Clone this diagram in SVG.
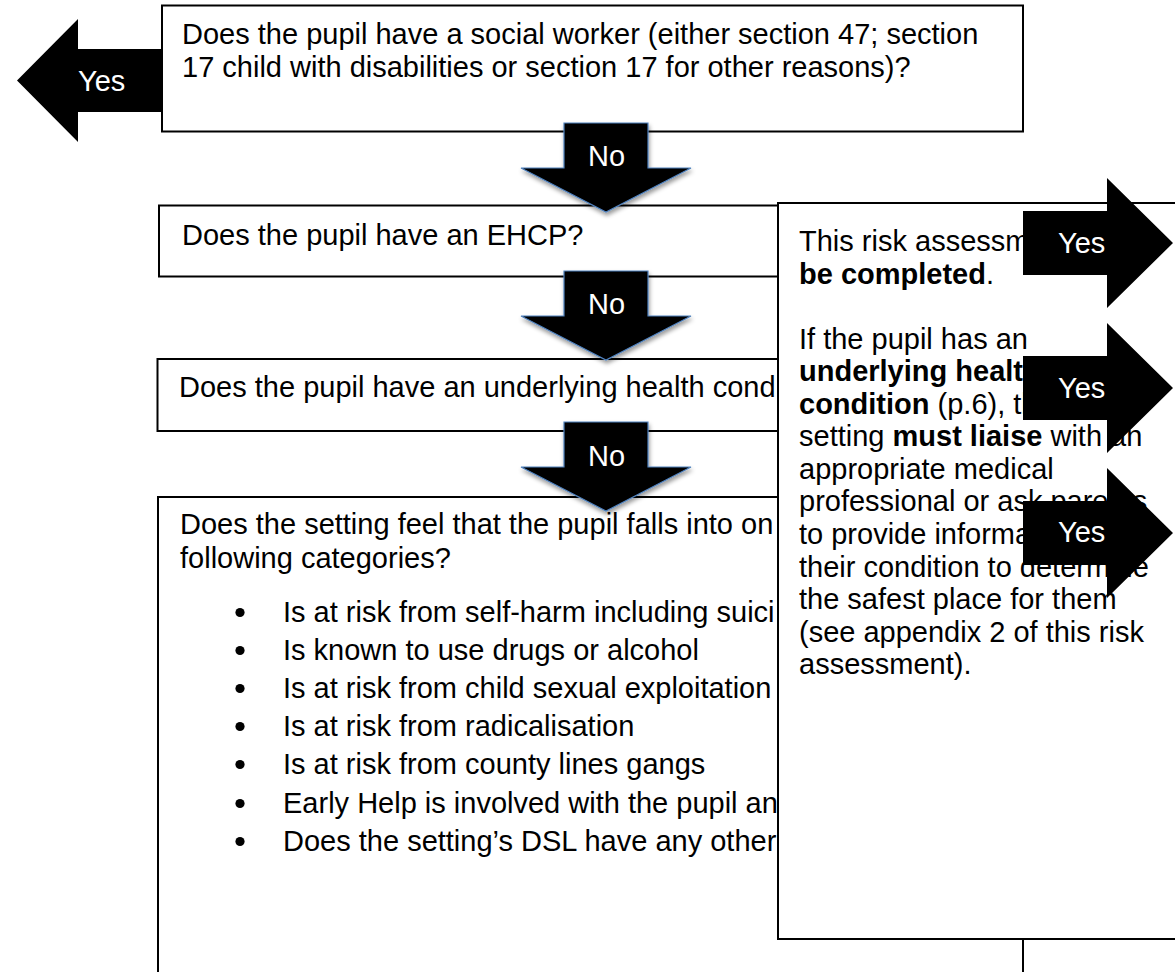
<svg xmlns="http://www.w3.org/2000/svg" width="1175" height="972" viewBox="0 0 1175 972">
<defs>
<style>
.box{fill:#fff;stroke:#000;stroke-width:2}
.t{font-family:"Liberation Sans",Arial,sans-serif;font-size:29px;fill:#000}
.b{font-weight:bold}
.dot{fill:#000}
.w{font-family:"Liberation Sans",Arial,sans-serif;font-size:29px;fill:#fff}
.yes{fill:#000}
.no{fill:#000;stroke:#4f81bd;stroke-width:1.2;filter:url(#sh)}
</style>
<filter id="sh" x="-20%" y="-20%" width="140%" height="150%">
<feDropShadow dx="1" dy="3" stdDeviation="2.2" flood-color="#000" flood-opacity="0.4"/>
</filter>
<path id="noArrow" d="M0,0 H84 V45 H127 L42,89 L-43,45 H0 Z"/>
<path id="yesR" d="M0,-32 H84 V-65 L150,0 L84,65 V32 H0 Z"/>
</defs>

<g id="yes-left">
<path class="yes" d="M17,80.5 L78,19 V49 H163 V112 H78 V142 Z"/>
<text class="w" x="78" y="91">Yes</text>
</g>

<g id="q-social-worker">
<rect class="box" x="162" y="5.5" width="861" height="126"/>
<text class="t" x="182" y="44">Does the pupil have a social worker (either section 47; section</text>
<text class="t" x="182" y="77">17 child with disabilities or section 17 for other reasons)?</text>
</g>

<g id="q-ehcp">
<rect class="box" x="159" y="205.5" width="864" height="71"/>
<text class="t" x="182" y="245">Does the pupil have an EHCP?</text>
</g>

<g id="q-health">
<rect class="box" x="157.5" y="359" width="865.5" height="72"/>
<text class="t" x="179" y="397">Does the pupil have an underlying health cond</text>
</g>

<g id="q-categories">
<rect class="box" x="158" y="497" width="865" height="600"/>
<text class="t" x="180" y="534">Does the setting feel that the pupil falls into on</text>
<text class="t" x="180" y="568">following categories?</text>
<g class="dot">
<circle cx="240" cy="612.5" r="4.6"/>
<circle cx="240" cy="650.5" r="4.6"/>
<circle cx="240" cy="688.5" r="4.6"/>
<circle cx="240" cy="726.5" r="4.6"/>
<circle cx="240" cy="764.5" r="4.6"/>
<circle cx="240" cy="803.5" r="4.6"/>
<circle cx="240" cy="841.5" r="4.6"/>
</g>
<g class="t">
<text x="283" y="622">Is at risk from self-harm including suici</text>
<text x="283" y="660">Is known to use drugs or alcohol</text>
<text x="283" y="698">Is at risk from child sexual exploitation</text>
<text x="283" y="736">Is at risk from radicalisation</text>
<text x="283" y="774">Is at risk from county lines gangs</text>
<text x="283" y="813">Early Help is involved with the pupil an</text>
<text x="283" y="851">Does the setting’s DSL have any other</text>
</g>
</g>

<g id="connectors">
<g>
<use href="#noArrow" class="no" x="564" y="123"/>
<text class="w" x="588" y="166">No</text>
</g>
<g>
<use href="#noArrow" class="no" x="564" y="271"/>
<text class="w" x="588" y="314">No</text>
</g>
<g>
<use href="#noArrow" class="no" x="564" y="422"/>
<text class="w" x="588" y="466">No</text>
</g>
</g>

<g id="outcome">
<rect class="box" x="778" y="203" width="420" height="736"/>
<g class="t">
<text x="799" y="251">This risk assessm</text>
<text x="799" y="284"><tspan class="b">be completed</tspan>.</text>
<text x="799" y="349">If the pupil has an</text>
<text x="799" y="381"><tspan class="b">underlying health</tspan></text>
<text x="799" y="414"><tspan class="b">condition</tspan> (p.6), the</text>
<text x="799" y="446">setting <tspan class="b">must liaise</tspan> with an</text>
<text x="799" y="479">appropriate medical</text>
<text x="799" y="511">professional or ask parents</text>
<text x="799" y="544">to provide informa</text>
<text x="1150" y="544">t</text>
<text x="799" y="577">their condition to determine</text>
<text x="799" y="609">the safest place for them</text>
<text x="799" y="642">(see appendix 2 of this risk</text>
<text x="799" y="674">assessment).</text>
</g>
</g>

<g id="yes-right">
<g>
<use href="#yesR" class="yes" x="1023" y="243"/>
<text class="w" x="1058" y="253">Yes</text>
</g>
<g>
<use href="#yesR" class="yes" x="1023" y="388"/>
<text class="w" x="1058" y="398">Yes</text>
</g>
<g>
<use href="#yesR" class="yes" x="1023" y="533"/>
<text class="w" x="1058" y="542">Yes</text>
</g>
</g>
</svg>
